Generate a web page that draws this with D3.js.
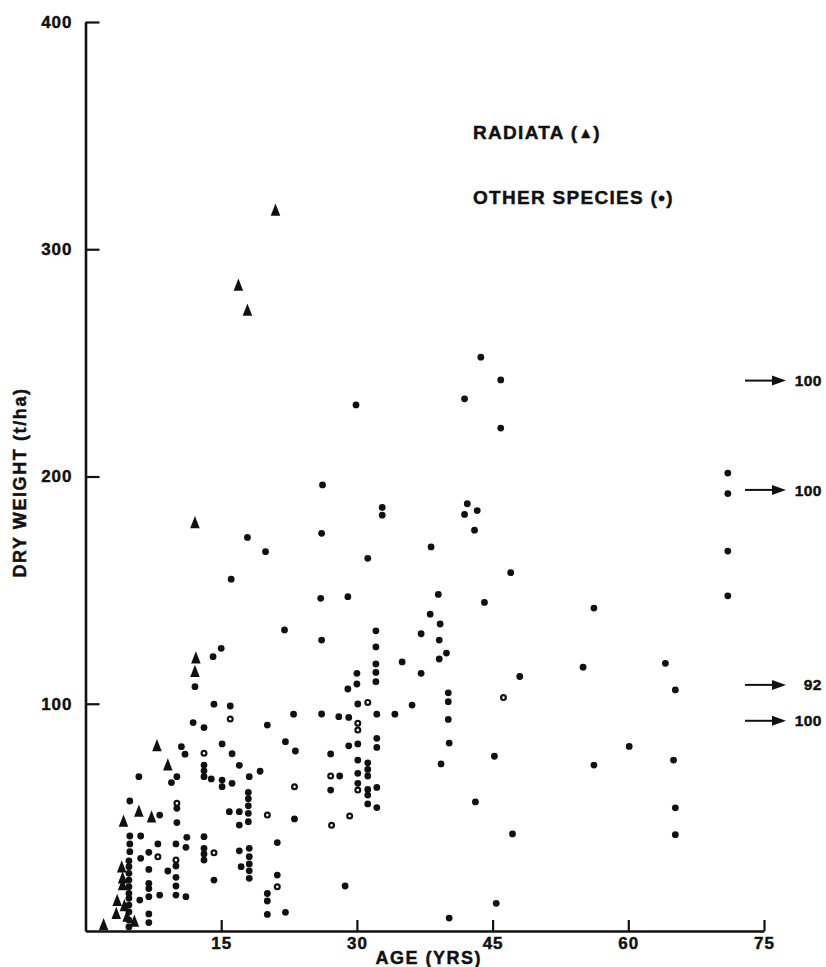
<!DOCTYPE html>
<html>
<head>
<meta charset="utf-8">
<script src="https://cdn.jsdelivr.net/npm/d3@7"></script>
<style>
  html, body { margin: 0; padding: 0; background: #fff; }
  svg { display: block; }
  text { font-family: "Liberation Sans", Arial, Helvetica, sans-serif; font-weight: bold; fill: #111; stroke: #111; stroke-width: 0.45px; }
</style>
</head>
<body>
<svg id="chart" width="826" height="967"></svg>
<script>
// Stand age (years) against dry weight (t/ha)
const ageTicks = [15, 30, 45, 60, 75];
const weightTicks = [100, 200, 300, 400];

// Radiata pine stands: [age, dry weight]
const radiataPoints = [
  [21.0, 317], [16.9, 284], [17.9, 273], [12.1, 179.5], [12.2, 120], [12.1, 114],
  [7.9, 81.4], [9.1, 72.9], [5.9, 52.5], [7.3, 50], [4.2, 48.1],
  [4.0, 28.0], [4.1, 23.2], [4.1, 20.2], [3.5, 13.3], [4.3, 11.0],
  [3.4, 7.5], [4.6, 6.3], [5.4, 4.1], [2.0, 2.6]
];

// Other species: [age, dry weight]
const otherPoints = [
  [29.9, 231.5], [26.2, 196.3], [32.8, 186.4], [32.8, 183], [26.1, 175], [17.9, 173.2],
  [19.9, 166.9], [31.2, 164], [16.1, 154.8], [26.0, 146.4], [29.0, 147.1], [22.0, 132.5],
  [26.1, 128], [32.1, 132.1], [32.1, 125], [15.0, 124.4],
  [14.1, 120.7], [12.1, 107.5], [14.2, 99.8], [16.0, 99.0], [11.9, 91.7], [13.1, 89.5],
  [20.1, 90.6], [10.6, 81.1], [11.0, 77.8], [15.1, 82.3], [16.2, 78.0], [17.0, 72.9],
  [19.3, 70.3], [10.1, 67.9], [9.5, 65.3], [13.1, 73.0], [13.1, 70.5], [13.1, 67.9],
  [13.9, 66.9], [15.1, 66.4], [15.1, 63.5], [16.2, 65.0], [18.1, 67.9], [18.0, 61.0],
  [18.0, 58.2], [18.0, 55.1], [18.0, 51.8], [18.0, 48.1], [10.1, 54.0], [8.2, 51.0],
  [10.1, 47.7], [15.9, 52.5], [17.0, 52.5], [17.0, 46.6], [11.2, 41.2], [8.0, 38.3],
  [10.0, 38.3], [11.1, 36.8], [13.1, 41.5], [13.1, 36.4], [13.1, 33.9], [13.1, 31.2],
  [17.0, 35.3], [18.1, 36.4], [18.1, 32.7], [18.1, 29.5], [18.1, 26.5], [18.1, 23.2],
  [17.2, 28.3], [21.2, 38.9], [10.0, 28.6], [9.1, 26.4], [10.0, 23.6], [10.0, 19.8],
  [10.0, 15.8], [11.1, 15.1], [8.2, 15.8], [14.2, 22.4], [21.2, 24.6], [20.1, 16.5],
  [20.1, 13.2], [20.1, 7.3],
  [5.9, 67.9], [4.9, 57.2], [4.9, 41.8], [4.9, 38.3], [4.9, 34.9], [6.1, 41.8],
  [7.0, 34.6], [6.1, 32.0], [7.0, 27.1], [7.0, 21.0], [7.0, 18.7], [7.0, 15.1],
  [6.0, 13.6], [7.0, 7.5], [7.0, 3.7], [4.8, 30.9], [4.8, 28.3], [4.8, 25.4],
  [4.8, 22.4], [4.8, 19.5], [4.8, 16.6], [4.8, 14.4], [4.8, 11.4], [4.8, 8.4],
  [4.8, 4.8], [4.8, 1.8],
  [32.1, 117.5], [32.1, 113.8], [32.1, 109.7], [30.0, 113.4], [30.0, 108.7], [29.0, 106.5],
  [30.1, 99.9], [23.0, 95.4], [26.1, 95.5], [28.0, 94.3], [29.1, 94.0], [32.2, 95.4],
  [34.2, 95.4], [22.1, 83.3], [23.2, 79.2], [29.1, 81.5], [30.1, 82.3], [32.2, 84.8],
  [32.2, 80.8], [27.1, 77.9], [30.1, 75.2], [31.2, 74.0], [31.2, 71.1], [31.2, 68.2],
  [30.1, 69.4], [28.1, 68.2], [27.1, 62.0], [30.1, 65.0], [31.2, 62.3], [31.2, 59.8],
  [31.2, 55.9], [32.2, 63.2], [32.2, 54.3], [23.1, 49.3], [28.7, 19.8], [22.1, 8.2],
  [43.7, 252.5], [45.9, 242.5], [41.9, 234.2], [45.9, 221.3], [42.2, 188.0], [41.9, 183.3],
  [43.3, 185.0], [43.0, 176.4], [38.2, 169.0], [47.0, 157.7], [39.0, 148.1], [44.1, 144.6],
  [38.1, 139.4], [39.2, 135.1], [37.1, 130.8], [39.1, 128.0], [39.9, 122.3], [39.1, 119.7],
  [35.0, 118.4], [37.1, 113.4], [48.0, 112.0], [40.1, 104.8], [40.1, 100.9], [36.1, 99.4],
  [40.1, 93.1], [40.2, 82.7], [39.3, 73.5], [45.2, 76.9], [43.1, 56.8], [47.2, 42.7],
  [45.4, 12.2], [40.2, 5.7],
  [56.2, 142.1], [55.0, 116.1], [64.1, 117.8], [65.2, 106.1], [60.1, 81.2], [56.2, 73.0],
  [65.0, 75.2], [65.2, 54.2], [65.2, 42.4],
  [71.0, 201.5], [71.0, 192.5], [71.0, 167.2], [71.0, 147.5]
];

// Other species, points printed with a small open centre
const otherRingedPoints = [
  [16.0, 93.3], [13.1, 78.2], [10.1, 56.2], [20.1, 51.0], [14.2, 34.4], [8.0, 32.7],
  [10.0, 31.2], [21.2, 19.5], [31.2, 100.6], [30.1, 91.4], [30.1, 88.4], [27.1, 68.2],
  [23.1, 63.5], [30.1, 62.0], [29.2, 50.6], [27.2, 46.5], [46.2, 102.7]
];

// Stands older than the axis range: [age, dry weight]
const offscalePoints = [[100, 242.2], [100, 194.1], [92, 108.3], [100, 92.5]];

const svg = d3.select("#chart");

const x = d3.scaleLinear().domain([0, 75]).range([85.5, 764]);
const y = d3.scaleLinear().domain([0, 400]).range([931, 22]);

// Axes
const xAxis = svg.append("g")
  .attr("transform", `translate(0,${y(0)})`)
  .call(d3.axisBottom(x).tickValues(ageTicks).tickSize(-11).tickSizeOuter(0).tickPadding(6));
const yAxis = svg.append("g")
  .attr("transform", `translate(${x(0)},0)`)
  .call(d3.axisLeft(y).tickValues(weightTicks).tickSize(-14).tickSizeOuter(0).tickPadding(13));

[xAxis, yAxis].forEach(g => {
  g.attr("font-family", null).attr("font-size", null);
  g.select(".domain").attr("stroke", "#111").attr("stroke-width", 2.6);
  g.selectAll(".tick line").attr("stroke", "#111").attr("stroke-width", 2.2);
  g.selectAll(".tick text")
    .style("font-size", "17px")
    .style("letter-spacing", "1px")
    .attr("fill", "#111");
});

// Axis titles
svg.append("text")
  .attr("x", (x(0) + x(75)) / 2 + 4)
  .attr("y", 964)
  .attr("text-anchor", "middle")
  .style("font-size", "18px")
  .style("letter-spacing", "1.5px")
  .text("AGE (YRS)");

svg.append("text")
  .attr("transform", `translate(26,${(y(0) + y(400)) / 2 + 6}) rotate(-90)`)
  .attr("text-anchor", "middle")
  .style("font-size", "18px")
  .style("letter-spacing", "1.6px")
  .text("DRY WEIGHT (t/ha)");

// Tall narrow triangle marker for radiata
const tallTriangle = {
  draw(ctx, size) {
    const h = Math.sqrt(size) * 1.25, w = h * 0.78;
    ctx.moveTo(0, -h * 0.58);
    ctx.lineTo(w / 2, h * 0.42);
    ctx.lineTo(-w / 2, h * 0.42);
    ctx.closePath();
  }
};

// Other species: filled dots
svg.append("g").selectAll("circle.other")
  .data(otherPoints)
  .join("circle")
  .attr("class", "other")
  .attr("cx", d => x(d[0]))
  .attr("cy", d => y(d[1]))
  .attr("r", 3.4)
  .attr("fill", "#111");

svg.append("g").selectAll("circle.ring")
  .data(otherRingedPoints)
  .join("circle")
  .attr("class", "ring")
  .attr("cx", d => x(d[0]))
  .attr("cy", d => y(d[1]))
  .attr("r", 2.4)
  .attr("fill", "#fff")
  .attr("stroke", "#111")
  .attr("stroke-width", 2.2);

// Radiata: filled triangles
svg.append("g").selectAll("path.radiata")
  .data(radiataPoints)
  .join("path")
  .attr("class", "radiata")
  .attr("transform", d => `translate(${x(d[0])},${y(d[1])})`)
  .attr("d", d3.symbol().type(tallTriangle).size(96))
  .attr("fill", "#111");

// Off-scale stands: arrows with their ages
const arrows = svg.append("g").selectAll("g.off")
  .data(offscalePoints)
  .join("g")
  .attr("class", "off")
  .attr("transform", d => `translate(0,${y(d[1])})`);
arrows.append("line")
  .attr("x1", x(75) - 19).attr("x2", x(75) + 10)
  .attr("y1", 0).attr("y2", 0)
  .attr("stroke", "#111").attr("stroke-width", 2);
arrows.append("path")
  .attr("d", `M${x(75) + 22},0 L${x(75) + 8},-5 L${x(75) + 8},5 Z`)
  .attr("fill", "#111");
arrows.append("text")
  .attr("x", 822)
  .attr("dy", "0.36em")
  .attr("text-anchor", "end")
  .style("font-size", "15.5px")
  .style("letter-spacing", "0.5px")
  .text(d => d[0]);

// Legend
const legend = svg.append("g");
const l1 = legend.append("text").attr("x", 473).attr("y", 139)
  .style("font-size", "19px").style("letter-spacing", "1.3px");
l1.append("tspan").text("RADIATA (");
l1.append("tspan").style("font-size", "15px").style("letter-spacing", "0px").attr("dy", "-1").text("▲");
l1.append("tspan").attr("dy", "1").text(")");

const l2 = legend.append("text").attr("x", 473).attr("y", 204)
  .style("font-size", "19px").style("letter-spacing", "1.3px");
l2.append("tspan").text("OTHER SPECIES (•)");
</script>
</body>
</html>
